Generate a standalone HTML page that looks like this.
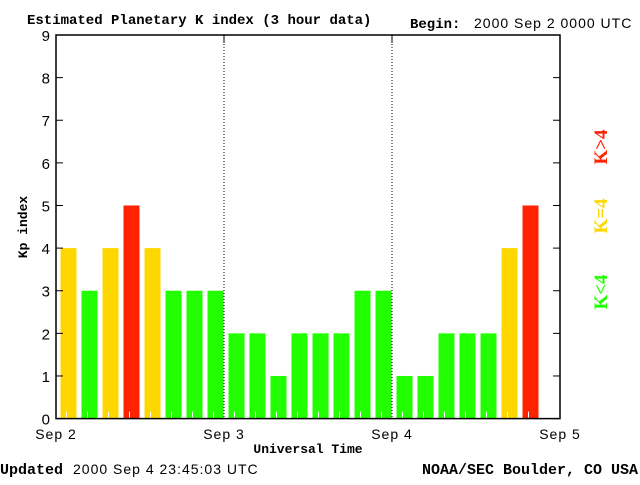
<!DOCTYPE html>
<html><head><meta charset="utf-8"><style>
body{margin:0;background:#fff;width:640px;height:480px;overflow:hidden}
svg text{font-family:"Liberation Sans","DejaVu Sans",sans-serif;fill:#000}
.b{font-family:"Liberation Mono",monospace;font-weight:bold}
.s{letter-spacing:1px}
</style></head><body>
<svg id="c" width="640" height="480">
<text class="b" x="27" y="24" font-size="14">Estimated Planetary K index (3 hour data)</text>
<text x="410" y="28" font-size="14"><tspan class="b" font-size="14">Begin:</tspan><tspan class="s" x="474">2000 Sep 2 0000 UTC</tspan></text>
<text x="0" y="474" font-size="14"><tspan class="b" font-size="15">Updated</tspan><tspan class="s" x="73">2000 Sep  4 23:45:03 UTC</tspan></text>
<text class="b" x="638" y="474" font-size="15" text-anchor="end">NOAA/SEC Boulder, CO USA</text>
<text class="b" x="308" y="453" font-size="13" text-anchor="middle">Universal Time</text>
<text class="b" transform="translate(27,227) rotate(-90)" font-size="13" text-anchor="middle">Kp index</text>
<g font-size="19" style="font-family:'Liberation Serif',serif;font-weight:bold">
<text transform="translate(607,147) rotate(-90)" text-anchor="middle" style="fill:#ff2200;font-family:'Liberation Serif',serif">K&gt;4</text>
<text transform="translate(607,216) rotate(-90)" text-anchor="middle" style="fill:#ffd700;font-family:'Liberation Serif',serif">K=4</text>
<text transform="translate(607,292) rotate(-90)" text-anchor="middle" style="fill:#22ff00;font-family:'Liberation Serif',serif">K&lt;4</text>
</g>
<g id="bars"></g>
<g id="axes"></g>
</svg>
<script>
const kpValues=[4,3,4,5,4,3,3,3,2,2,1,2,2,2,3,3,1,1,2,2,2,4,5];
const dayLabels=["Sep 2","Sep 3","Sep 4","Sep 5"];
const yTicks=[0,1,2,3,4,5,6,7,8,9];
const NS="http://www.w3.org/2000/svg";
const X0=56,X1=560,Y0=418.6,Y9=35,slots=24;
const sx=i=>X0+(X1-X0)*i/slots;
const sy=v=>Y0-(Y0-Y9)*v/9;
function mk(t,a,p){const e=document.createElementNS(NS,t);for(const k in a)e.setAttribute(k,a[k]);p.appendChild(e);return e;}
const bars=document.getElementById('bars'),axes=document.getElementById('axes');
const sw=(X1-X0)/slots;
kpValues.forEach((v,i)=>{
 const col=v>4?'#ff2200':(v==4?'#ffd700':'#22ff00');
 const r=mk('rect',{x:sx(i)+4.5,y:sy(v),width:16,height:Y0-sy(v),fill:col},bars);
 
 
 const t=mk('line',{x1:sx(i)+sw/2,x2:sx(i)+sw/2,y1:Y0-7,y2:Y0-1,stroke:'#fff','stroke-width':1},bars);
 
 
});
const fr=mk('rect',{x:X0,y:Y9,width:X1-X0,height:Y0-Y9,fill:'none',stroke:'#000','stroke-width':1.5},axes);


yTicks.forEach(v=>{
 const y=sy(v);
 mk('line',{x1:X0,x2:X0+7,y1:y,y2:y,stroke:'#000'},axes);
 mk('line',{x1:X1-7,x2:X1,y1:y,y2:y,stroke:'#000'},axes);
 const t=mk('text',{x:X0-6,y:y+6,'font-size':15,'text-anchor':'end'},axes);
 t.textContent=v;
 
 
});
dayLabels.forEach((d,i)=>{
 const x=sx(i*8);
 if(i>0&&i<3){
  const l=mk('line',{x1:x,x2:x,y1:Y9,y2:Y0,stroke:'#000','stroke-dasharray':'1,2'},axes);
  
  
  mk('line',{x1:x,x2:x,y1:Y9,y2:Y9+8,stroke:'#000'},axes);
 }
 const t=mk('text',{x:x,y:439,'font-size':14,'text-anchor':'middle','letter-spacing':'1'},axes);
 t.textContent=d;
 
 
});
</script>
</body></html>
